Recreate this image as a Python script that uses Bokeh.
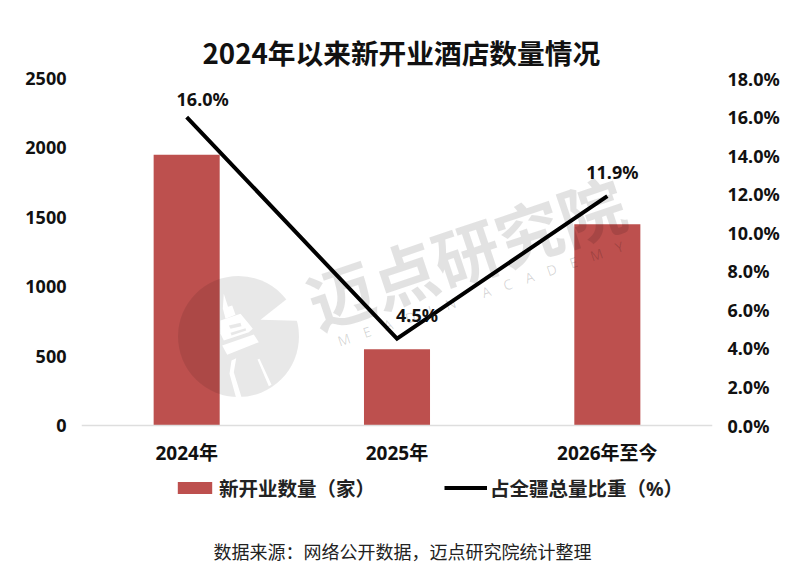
from bokeh.embed import file_html
from bokeh.resources import INLINE
from bokeh.plotting import figure
from bokeh.models import (Range1d, LinearAxis, FixedTicker, PrintfTickFormatter,
                          Legend, LegendItem, ColumnDataSource)
from bokeh.core.properties import value

# ---- data ----
categories = ["2024年", "2025年", "2026年至今"]
new_hotels = [1950, 550, 1450]
share_pct = [16.0, 4.5, 11.9]
share_labels = ["16.0%", "4.5%", "11.9%"]
left_ticks = [0, 500, 1000, 1500, 2000, 2500]
right_ticks = [0, 2, 4, 6, 8, 10, 12, 14, 16, 18]
title_text = "2024年以来新开业酒店数量情况"
source_text = "数据来源：网络公开数据，迈点研究院统计整理"
bar_name = "新开业数量（家）"
line_name = "占全疆总量比重（%）"

# ---- style ----
LATIN_CJK = "'Noto Sans', 'Noto Sans CJK SC'"
CJK = "Noto Sans CJK SC"
BAR = "#BD504E"
AXIS = "#DEDEDE"
label_dx = [16, 20, 5]
label_dy = [-18, -24, -24]
FRAME_TOP, ZERO_Y, PAGE_H = 78, 425, 564
below = (PAGE_H - ZERO_Y) / (ZERO_Y - FRAME_TOP)   # frame runs on below zero to hold legend and note

xs = [i + 0.5 for i in range(len(categories))]

p = figure(width=800, height=PAGE_H, output_backend="svg", toolbar_location=None,
           x_range=Range1d(0, len(categories)),
           y_range=Range1d(-below * left_ticks[-1], left_ticks[-1]),
           min_border_left=81, min_border_right=88, min_border_top=FRAME_TOP, min_border_bottom=0,
           x_axis_location=None)
p.extra_y_ranges = {"right": Range1d(-below * right_ticks[-1], right_ticks[-1]),
                    "py": Range1d(PAGE_H, FRAME_TOP)}
p.extra_x_ranges = {"px": Range1d(81, 712)}
p.outline_line_color = None
p.background_fill_color = "white"
p.border_fill_color = "white"
p.grid.visible = False

p.title.text = title_text
p.title.text_font = CJK
p.title.text_font_size = "27.7px"
p.title.text_font_style = "bold"
p.title.text_color = "#111111"
p.title.align = "left"
p.title.vertical_align = "top"
p.title.offset = 121
p.title.standoff = 10

def style_axis(ax, size="18px"):
    ax.axis_line_color = None
    ax.major_tick_line_color = None
    ax.minor_tick_line_color = None
    ax.major_tick_out = 0
    ax.major_tick_in = 0
    ax.major_label_text_font = LATIN_CJK
    ax.major_label_text_font_size = size
    ax.major_label_text_font_style = "bold"
    ax.major_label_text_color = "#111111"

yl = p.yaxis[0]
yl.ticker = FixedTicker(ticks=left_ticks)
style_axis(yl)
yl.major_label_standoff = 15

yr = LinearAxis(y_range_name="right", ticker=FixedTicker(ticks=right_ticks),
                formatter=PrintfTickFormatter(format="%.1f%%"))
style_axis(yr)
yr.major_label_standoff = 15
p.add_layout(yr, "right")

xa = LinearAxis(fixed_location=0, ticker=FixedTicker(ticks=xs),
                major_label_overrides=dict(zip(xs, categories)))
style_axis(xa, "19px")
xa.axis_line_color = AXIS
xa.axis_line_width = 1.5
xa.major_label_standoff = 14
p.add_layout(xa, "below")

# bars
bars = p.vbar(x=xs, top=new_hotels, width=0.314, fill_color=BAR, line_color=None)

# watermark (decoration, placed on a pixel-like range)
wm = dict(x_range_name="px", y_range_name="py")
GREY = dict(fill_color="black", fill_alpha=0.09, line_color=None)
p.circle(x=[238], y=[336], radius=60.5, **GREY, **wm)
white = [
    # notch in the disc
    [[260, 305, 305], [319.3, 283.7, 320.5]],
    # spire
    [[223.3, 227.7, 222.3], [293.3, 306.7, 308.3]],
    # top block
    [[222.3, 231.7, 235, 225], [307.7, 305, 314.3, 318.3]],
    # middle block
    [[220, 240, 248.3, 252.3, 248.3, 223.3, 220], [320, 313.3, 323.3, 328.3, 331.7, 340, 333.3]],
    # lower band
    [[221.7, 253.3, 258.3, 226.7], [345, 334, 341.7, 354.3]],
    # left leg
    [[231, 235.7, 233.3, 241, 235.7, 229], [360, 357.7, 371.7, 396.7, 397.7, 373.3]],
    # right leg
    [[257, 259, 271, 268.3], [359, 358.3, 384.3, 385.7]],
]
p.patches(xs=[w[0] for w in white], ys=[w[1] for w in white], fill_color="white",
          line_color=None, **wm)
windows = [
    [[228.3, 240, 241, 230], [325, 322.3, 325.7, 328.3]],
    [[230, 245, 245.7, 231], [332.3, 327.7, 330, 335]],
]
p.patches(xs=[w[0] for w in windows], ys=[w[1] for w in windows], **GREY, **wm)
p.text(x=[465], y=[250], text=["迈点研究院"], angle=18.6, angle_units="deg", text_align="center",
       text_baseline="middle", text_font=value(CJK), text_font_size="66px", text_font_style="bold",
       text_color="black", text_alpha=0.115, **wm)
em = "\u2003"
p.text(x=[480], y=[293], text=[em.join("MEADIN") + em + em + em.join("ACADEMY")], angle=18.6, angle_units="deg",
       text_align="center", text_baseline="middle", text_font=value("Open Sans"), text_font_size="14px",
       text_color="black", text_alpha=0.16, **wm)

# line + data labels
line = p.line(x=xs, y=share_pct, y_range_name="right", line_color="black", line_width=4,
              line_join="miter")
src = ColumnDataSource(dict(x=xs, y=share_pct, t=share_labels, dx=label_dx, dy=label_dy))
p.text(x="x", y="y", text="t", source=src, y_range_name="right", x_offset="dx", y_offset="dy",
       text_align="center", text_baseline="middle", text_font=value(LATIN_CJK),
       text_font_size="18px", text_font_style="bold", text_color="#111111")

# legend
legend = Legend(items=[LegendItem(label=bar_name, renderers=[bars]),
                       LegendItem(label=line_name, renderers=[line])],
                orientation="horizontal", location=(92, 62),
                glyph_width=43, glyph_height=15, label_standoff=3, spacing=69,
                padding=0, margin=0, border_line_color=None, background_fill_alpha=0,
                label_text_font=LATIN_CJK, label_text_font_size="19.5px",
                label_text_font_style="bold", label_text_color="#222222")
p.add_layout(legend, "center")

# source note
p.text(x=[402], y=[550], text=[source_text], text_align="center", text_baseline="middle",
       text_font=value(CJK), text_font_size="18px", text_color="#222222", **wm)

open("out.html", "w").write(file_html(p, INLINE))
